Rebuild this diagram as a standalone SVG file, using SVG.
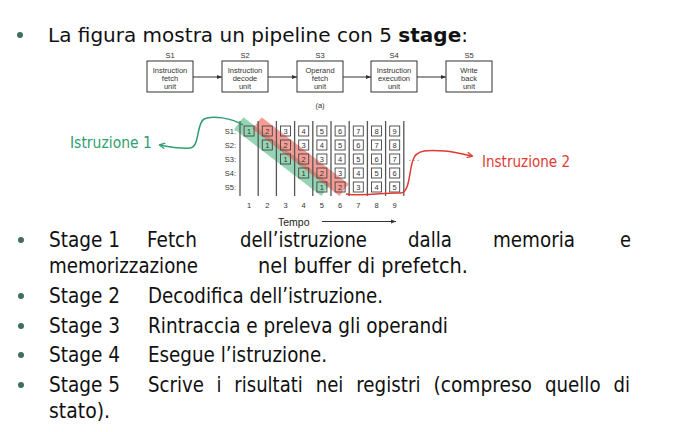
<svg xmlns="http://www.w3.org/2000/svg" width="675" height="432" viewBox="0 0 675 432">
  <style>
    .title { font-family: "DejaVu Sans", Verdana, sans-serif; font-size: 19px; fill: #111; }
    .body { font-family: "DejaVu Sans Condensed", "DejaVu Sans", sans-serif; font-size: 20.5px; fill: #111; }
    .bullet { fill: #3d6e5e; }
    .small { font-family: "Liberation Sans", Arial, sans-serif; font-size: 7.5px; fill: #333; text-anchor: middle; }
    .unit { fill: #fff; stroke: #333; stroke-width: 1; }
    .link { stroke: #333; stroke-width: 1; fill: none; }
    .vline { stroke: #555; stroke-width: 1.3; }
    .cell { fill: none; stroke: #444; stroke-width: 0.9; }
    .num { font-family: "Liberation Sans", Arial, sans-serif; font-size: 7.5px; fill: #333; text-anchor: middle; }
    .lbl { font-family: "Liberation Sans", Arial, sans-serif; font-size: 7.5px; fill: #333; text-anchor: end; }
    .callout { font-family: "DejaVu Sans Condensed", "DejaVu Sans", sans-serif; font-size: 15px; }
  </style>
  <defs>
    <marker id="tri" viewBox="0 0 10 10" refX="10" refY="5" markerWidth="5" markerHeight="5" orient="auto">
      <path d="M0,1 L10,5 L0,9 z" fill="#333"/>
    </marker>
    <marker id="headG" viewBox="0 0 10 10" refX="8" refY="5" markerWidth="7" markerHeight="7" orient="auto" markerUnits="userSpaceOnUse">
      <path d="M1,1 L9,5 L1,9" fill="none" stroke="#2f9e72" stroke-width="1.8"/>
    </marker>
    <marker id="headR" viewBox="0 0 10 10" refX="8" refY="5" markerWidth="7" markerHeight="7" orient="auto" markerUnits="userSpaceOnUse">
      <path d="M1,1 L9,5 L1,9" fill="none" stroke="#e23a32" stroke-width="1.8"/>
    </marker>
  </defs>

  <rect width="675" height="432" fill="#fff"/>

  <!-- heading -->
  <circle class="bullet" cx="20" cy="35" r="3"/>
  <text class="title" x="48" y="42" textLength="420" lengthAdjust="spacingAndGlyphs">La figura mostra un pipeline con 5 <tspan font-weight="bold">stage</tspan>:</text>

  <!-- five-stage unit chain -->
  <g id="chain-labels">
    <text class="small" x="170" y="58">S1</text>
    <text class="small" x="245" y="58">S2</text>
    <text class="small" x="320" y="58">S3</text>
    <text class="small" x="394" y="58">S4</text>
    <text class="small" x="469" y="58">S5</text>
  </g>
  <g id="unit-s1">
    <rect class="unit" x="147" y="61" width="46" height="31"/>
    <text class="small" x="170" y="72.5">Instruction</text>
    <text class="small" x="170" y="80.5">fetch</text>
    <text class="small" x="170" y="88.5">unit</text>
  </g>
  <g id="unit-s2">
    <rect class="unit" x="222" y="61" width="46" height="31"/>
    <text class="small" x="245" y="72.5">Instruction</text>
    <text class="small" x="245" y="80.5">decode</text>
    <text class="small" x="245" y="88.5">unit</text>
  </g>
  <g id="unit-s3">
    <rect class="unit" x="297" y="61" width="46" height="31"/>
    <text class="small" x="320" y="72.5">Operand</text>
    <text class="small" x="320" y="80.5">fetch</text>
    <text class="small" x="320" y="88.5">unit</text>
  </g>
  <g id="unit-s4">
    <rect class="unit" x="371" y="61" width="46" height="31"/>
    <text class="small" x="394" y="72.5">Instruction</text>
    <text class="small" x="394" y="80.5">execution</text>
    <text class="small" x="394" y="88.5">unit</text>
  </g>
  <g id="unit-s5">
    <rect class="unit" x="446" y="61" width="46" height="31"/>
    <text class="small" x="469" y="72.5">Write</text>
    <text class="small" x="469" y="80.5">back</text>
    <text class="small" x="469" y="88.5">unit</text>
  </g>
  <g id="connectors">
    <line class="link" x1="193" y1="77" x2="222" y2="77" marker-end="url(#tri)"/>
    <line class="link" x1="268" y1="77" x2="297" y2="77" marker-end="url(#tri)"/>
    <line class="link" x1="343" y1="77" x2="371" y2="77" marker-end="url(#tri)"/>
    <line class="link" x1="417" y1="77" x2="446" y2="77" marker-end="url(#tri)"/>
  </g>
  <text class="small" x="320" y="108">(a)</text>

  <!-- timing chart -->
  <g id="timing">
    <polygon points="243.4,117.2 330.5,184.1 321.3,195.9 234.2,129.0" fill="#4fb884" opacity="0.6"/>
    <polygon points="261.6,117.2 348.7,184.1 339.5,195.9 252.4,129.0" fill="#ef5a50" opacity="0.6"/>

    <g class="vline">
      <line x1="240" y1="121" x2="240" y2="196"/>
      <line x1="258.2" y1="121" x2="258.2" y2="196"/>
      <line x1="276.4" y1="121" x2="276.4" y2="196"/>
      <line x1="294.6" y1="121" x2="294.6" y2="196"/>
      <line x1="312.8" y1="121" x2="312.8" y2="196"/>
      <line x1="331" y1="121" x2="331" y2="196"/>
      <line x1="349.2" y1="121" x2="349.2" y2="196"/>
      <line x1="367.4" y1="121" x2="367.4" y2="196"/>
      <line x1="385.6" y1="121" x2="385.6" y2="196"/>
      <line x1="403.8" y1="121" x2="403.8" y2="196"/>
    </g>

    <text class="lbl" x="236" y="134">S1:</text>
    <text class="lbl" x="236" y="148">S2:</text>
    <text class="lbl" x="236" y="162">S3:</text>
    <text class="lbl" x="236" y="176">S4:</text>
    <text class="lbl" x="236" y="190">S5:</text>

    <!-- row S1 -->
    <g>
      <rect class="cell" x="244.1" y="126" width="10" height="10"/><text class="num" x="249.1" y="134">1</text>
      <rect class="cell" x="262.3" y="126" width="10" height="10"/><text class="num" x="267.3" y="134">2</text>
      <rect class="cell" x="280.5" y="126" width="10" height="10"/><text class="num" x="285.5" y="134">3</text>
      <rect class="cell" x="298.7" y="126" width="10" height="10"/><text class="num" x="303.7" y="134">4</text>
      <rect class="cell" x="316.9" y="126" width="10" height="10"/><text class="num" x="321.9" y="134">5</text>
      <rect class="cell" x="335.1" y="126" width="10" height="10"/><text class="num" x="340.1" y="134">6</text>
      <rect class="cell" x="353.3" y="126" width="10" height="10"/><text class="num" x="358.3" y="134">7</text>
      <rect class="cell" x="371.5" y="126" width="10" height="10"/><text class="num" x="376.5" y="134">8</text>
      <rect class="cell" x="389.7" y="126" width="10" height="10"/><text class="num" x="394.7" y="134">9</text>
    </g>
    <!-- row S2 -->
    <g>
      <rect class="cell" x="262.3" y="140" width="10" height="10"/><text class="num" x="267.3" y="148">1</text>
      <rect class="cell" x="280.5" y="140" width="10" height="10"/><text class="num" x="285.5" y="148">2</text>
      <rect class="cell" x="298.7" y="140" width="10" height="10"/><text class="num" x="303.7" y="148">3</text>
      <rect class="cell" x="316.9" y="140" width="10" height="10"/><text class="num" x="321.9" y="148">4</text>
      <rect class="cell" x="335.1" y="140" width="10" height="10"/><text class="num" x="340.1" y="148">5</text>
      <rect class="cell" x="353.3" y="140" width="10" height="10"/><text class="num" x="358.3" y="148">6</text>
      <rect class="cell" x="371.5" y="140" width="10" height="10"/><text class="num" x="376.5" y="148">7</text>
      <rect class="cell" x="389.7" y="140" width="10" height="10"/><text class="num" x="394.7" y="148">8</text>
    </g>
    <!-- row S3 -->
    <g>
      <rect class="cell" x="280.5" y="154" width="10" height="10"/><text class="num" x="285.5" y="162">1</text>
      <rect class="cell" x="298.7" y="154" width="10" height="10"/><text class="num" x="303.7" y="162">2</text>
      <rect class="cell" x="316.9" y="154" width="10" height="10"/><text class="num" x="321.9" y="162">3</text>
      <rect class="cell" x="335.1" y="154" width="10" height="10"/><text class="num" x="340.1" y="162">4</text>
      <rect class="cell" x="353.3" y="154" width="10" height="10"/><text class="num" x="358.3" y="162">5</text>
      <rect class="cell" x="371.5" y="154" width="10" height="10"/><text class="num" x="376.5" y="162">6</text>
      <rect class="cell" x="389.7" y="154" width="10" height="10"/><text class="num" x="394.7" y="162">7</text>
    </g>
    <!-- row S4 -->
    <g>
      <rect class="cell" x="298.7" y="168" width="10" height="10"/><text class="num" x="303.7" y="176">1</text>
      <rect class="cell" x="316.9" y="168" width="10" height="10"/><text class="num" x="321.9" y="176">2</text>
      <rect class="cell" x="335.1" y="168" width="10" height="10"/><text class="num" x="340.1" y="176">3</text>
      <rect class="cell" x="353.3" y="168" width="10" height="10"/><text class="num" x="358.3" y="176">4</text>
      <rect class="cell" x="371.5" y="168" width="10" height="10"/><text class="num" x="376.5" y="176">5</text>
      <rect class="cell" x="389.7" y="168" width="10" height="10"/><text class="num" x="394.7" y="176">6</text>
    </g>
    <!-- row S5 -->
    <g>
      <rect class="cell" x="316.9" y="182" width="10" height="10"/><text class="num" x="321.9" y="190">1</text>
      <rect class="cell" x="335.1" y="182" width="10" height="10"/><text class="num" x="340.1" y="190">2</text>
      <rect class="cell" x="353.3" y="182" width="10" height="10"/><text class="num" x="358.3" y="190">3</text>
      <rect class="cell" x="371.5" y="182" width="10" height="10"/><text class="num" x="376.5" y="190">4</text>
      <rect class="cell" x="389.7" y="182" width="10" height="10"/><text class="num" x="394.7" y="190">5</text>
    </g>

    <text class="num" x="414" y="161" fill="#777">. . .</text>

    <!-- clock cycles -->
    <text class="num" x="249.1" y="207.5">1</text>
    <text class="num" x="267.3" y="207.5">2</text>
    <text class="num" x="285.5" y="207.5">3</text>
    <text class="num" x="303.7" y="207.5">4</text>
    <text class="num" x="321.9" y="207.5">5</text>
    <text class="num" x="340.1" y="207.5">6</text>
    <text class="num" x="358.3" y="207.5">7</text>
    <text class="num" x="376.5" y="207.5">8</text>
    <text class="num" x="394.7" y="207.5">9</text>

    <text x="278" y="226" font-family="Liberation Sans, Arial, sans-serif" font-size="10.5" fill="#222">Tempo</text>
    <line class="link" x1="322" y1="221.5" x2="396" y2="221.5" marker-end="url(#tri)"/>
  </g>

  <!-- callouts -->
  <g id="callouts">
    <path d="M243,125 C232,118 212,115 204,119 C196,124 200,147 190,148 C180,149 170,147 160,145" fill="none" stroke="#2f9e72" stroke-width="1.5" marker-end="url(#headG)"/>
    <text class="callout" x="70" y="148" fill="#2f9e72" textLength="82" lengthAdjust="spacingAndGlyphs">Istruzione 1</text>
    <path d="M346,194 C365,197 385,192 400,193 C410,194 409,170 413,160 C416,149 430,150 445,151 C455,152 463,154 472,156" fill="none" stroke="#e23a32" stroke-width="1.5" marker-end="url(#headR)"/>
    <text class="callout" x="482" y="167" fill="#e23a32" textLength="88" lengthAdjust="spacingAndGlyphs">Instruzione 2</text>
  </g>

  <!-- stage descriptions -->
  <g id="stages">
    <circle class="bullet" cx="21" cy="240" r="3"/>
    <text class="body" x="49" y="247" textLength="71" lengthAdjust="spacingAndGlyphs">Stage 1</text>
    <text class="body" x="147" y="247" textLength="50" lengthAdjust="spacingAndGlyphs">Fetch</text>
    <text class="body" x="240" y="247" textLength="127" lengthAdjust="spacingAndGlyphs">dell’istruzione</text>
    <text class="body" x="408" y="247" textLength="44" lengthAdjust="spacingAndGlyphs">dalla</text>
    <text class="body" x="493" y="247" textLength="82" lengthAdjust="spacingAndGlyphs">memoria</text>
    <text class="body" x="620" y="247" textLength="11" lengthAdjust="spacingAndGlyphs">e</text>
    <text class="body" x="49" y="273" textLength="149" lengthAdjust="spacingAndGlyphs">memorizzazione</text>
    <text class="body" x="258" y="273" textLength="210" lengthAdjust="spacingAndGlyphs">nel buffer di prefetch.</text>

    <circle class="bullet" cx="21" cy="296" r="3"/>
    <text class="body" x="49" y="303" textLength="71" lengthAdjust="spacingAndGlyphs">Stage 2</text>
    <text class="body" x="148" y="303" textLength="235" lengthAdjust="spacingAndGlyphs">Decodifica dell’istruzione.</text>

    <circle class="bullet" cx="21" cy="326" r="3"/>
    <text class="body" x="49" y="333" textLength="71" lengthAdjust="spacingAndGlyphs">Stage 3</text>
    <text class="body" x="148" y="333" textLength="300" lengthAdjust="spacingAndGlyphs">Rintraccia e preleva gli operandi</text>

    <circle class="bullet" cx="21" cy="355" r="3"/>
    <text class="body" x="49" y="362" textLength="71" lengthAdjust="spacingAndGlyphs">Stage 4</text>
    <text class="body" x="148" y="362" textLength="179" lengthAdjust="spacingAndGlyphs">Esegue l’istruzione.</text>

    <circle class="bullet" cx="21" cy="385" r="3"/>
    <text class="body" x="49" y="392" textLength="71" lengthAdjust="spacingAndGlyphs">Stage 5</text>
    <text class="body" x="148" y="392" textLength="56" lengthAdjust="spacingAndGlyphs">Scrive</text>
    <text class="body" x="216.6" y="392" textLength="5" lengthAdjust="spacingAndGlyphs">i</text>
    <text class="body" x="234.3" y="392" textLength="68.5" lengthAdjust="spacingAndGlyphs">risultati</text>
    <text class="body" x="315.7" y="392" textLength="27.7" lengthAdjust="spacingAndGlyphs">nei</text>
    <text class="body" x="356.3" y="392" textLength="64.3" lengthAdjust="spacingAndGlyphs">registri</text>
    <text class="body" x="433.5" y="392" textLength="98.5" lengthAdjust="spacingAndGlyphs">(compreso</text>
    <text class="body" x="544.9" y="392" textLength="55.7" lengthAdjust="spacingAndGlyphs">quello</text>
    <text class="body" x="613.5" y="392" textLength="16.5" lengthAdjust="spacingAndGlyphs">di</text>
    <text class="body" x="49" y="418" textLength="61" lengthAdjust="spacingAndGlyphs">stato).</text>
  </g>
</svg>
